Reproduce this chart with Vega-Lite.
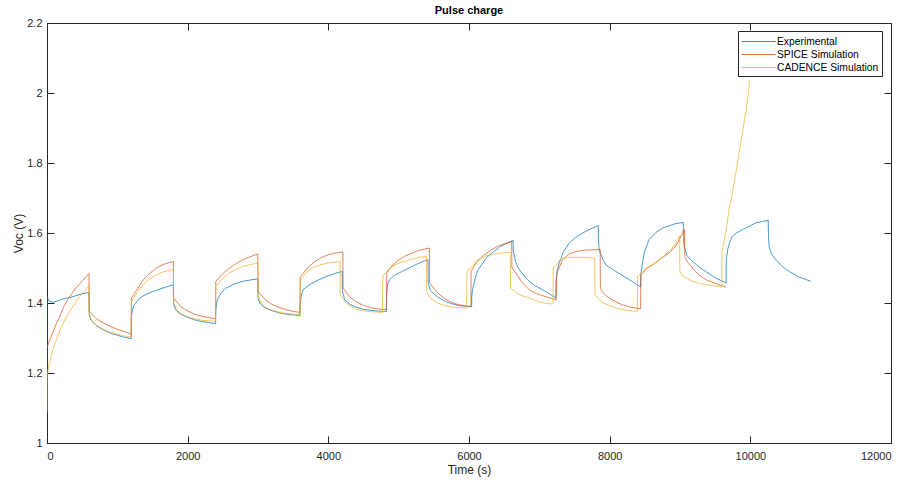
{
  "$schema": "https://vega.github.io/schema/vega-lite/v6.json",
  "autosize": {"type": "none"},
  "width": 844,
  "height": 420,
  "padding": {"left": 47, "top": 23, "right": 18, "bottom": 41},
  "background": "white",
  "title": {"text": "Pulse charge", "fontSize": 11, "fontWeight": "bold", "font": "Liberation Sans", "color": "#000000", "offset": 1},
  "data": {"values": [
    {"s":"Experimental","t":0,"v":1.085},{"s":"Experimental","t":2,"v":1.418},{"s":"Experimental","t":30,"v":1.405},{"s":"Experimental","t":90,"v":1.402},{"s":"Experimental","t":200,"v":1.41},{"s":"Experimental","t":370,"v":1.418},{"s":"Experimental","t":470,"v":1.425},{"s":"Experimental","t":597,"v":1.43},
    {"s":"Experimental","t":600,"v":1.372},{"s":"Experimental","t":620,"v":1.352},{"s":"Experimental","t":700,"v":1.336},{"s":"Experimental","t":800,"v":1.323},{"s":"Experimental","t":900,"v":1.314},{"s":"Experimental","t":1000,"v":1.308},{"s":"Experimental","t":1100,"v":1.302},{"s":"Experimental","t":1197,"v":1.298},
    {"s":"Experimental","t":1200,"v":1.365},{"s":"Experimental","t":1230,"v":1.392},{"s":"Experimental","t":1280,"v":1.405},{"s":"Experimental","t":1315,"v":1.414},{"s":"Experimental","t":1400,"v":1.424},{"s":"Experimental","t":1508,"v":1.433},{"s":"Experimental","t":1650,"v":1.443},{"s":"Experimental","t":1797,"v":1.452},
    {"s":"Experimental","t":1800,"v":1.396},{"s":"Experimental","t":1830,"v":1.38},{"s":"Experimental","t":1900,"v":1.368},{"s":"Experimental","t":2000,"v":1.359},{"s":"Experimental","t":2100,"v":1.352},{"s":"Experimental","t":2200,"v":1.347},{"s":"Experimental","t":2300,"v":1.344},{"s":"Experimental","t":2397,"v":1.341},
    {"s":"Experimental","t":2400,"v":1.38},{"s":"Experimental","t":2420,"v":1.409},{"s":"Experimental","t":2480,"v":1.43},{"s":"Experimental","t":2549,"v":1.443},{"s":"Experimental","t":2650,"v":1.453},{"s":"Experimental","t":2784,"v":1.462},{"s":"Experimental","t":2900,"v":1.466},{"s":"Experimental","t":2997,"v":1.469},
    {"s":"Experimental","t":3000,"v":1.414},{"s":"Experimental","t":3030,"v":1.398},{"s":"Experimental","t":3100,"v":1.386},{"s":"Experimental","t":3200,"v":1.378},{"s":"Experimental","t":3300,"v":1.372},{"s":"Experimental","t":3400,"v":1.368},{"s":"Experimental","t":3500,"v":1.366},{"s":"Experimental","t":3597,"v":1.364},
    {"s":"Experimental","t":3600,"v":1.4},{"s":"Experimental","t":3615,"v":1.42},{"s":"Experimental","t":3640,"v":1.438},{"s":"Experimental","t":3750,"v":1.455},{"s":"Experimental","t":3872,"v":1.467},{"s":"Experimental","t":4000,"v":1.478},{"s":"Experimental","t":4100,"v":1.485},{"s":"Experimental","t":4197,"v":1.49},
    {"s":"Experimental","t":4200,"v":1.435},{"s":"Experimental","t":4230,"v":1.41},{"s":"Experimental","t":4300,"v":1.397},{"s":"Experimental","t":4400,"v":1.388},{"s":"Experimental","t":4500,"v":1.382},{"s":"Experimental","t":4600,"v":1.379},{"s":"Experimental","t":4700,"v":1.377},{"s":"Experimental","t":4827,"v":1.376},
    {"s":"Experimental","t":4830,"v":1.43},{"s":"Experimental","t":4845,"v":1.455},{"s":"Experimental","t":4870,"v":1.466},{"s":"Experimental","t":4930,"v":1.478},{"s":"Experimental","t":5007,"v":1.486},{"s":"Experimental","t":5196,"v":1.505},{"s":"Experimental","t":5300,"v":1.515},{"s":"Experimental","t":5417,"v":1.524},
    {"s":"Experimental","t":5420,"v":1.457},{"s":"Experimental","t":5450,"v":1.435},{"s":"Experimental","t":5550,"v":1.418},{"s":"Experimental","t":5650,"v":1.406},{"s":"Experimental","t":5750,"v":1.398},{"s":"Experimental","t":5850,"v":1.393},{"s":"Experimental","t":6037,"v":1.389},
    {"s":"Experimental","t":6040,"v":1.42},{"s":"Experimental","t":6050,"v":1.438},{"s":"Experimental","t":6100,"v":1.48},{"s":"Experimental","t":6130,"v":1.495},{"s":"Experimental","t":6250,"v":1.53},{"s":"Experimental","t":6350,"v":1.547},{"s":"Experimental","t":6450,"v":1.562},{"s":"Experimental","t":6550,"v":1.572},{"s":"Experimental","t":6627,"v":1.579},
    {"s":"Experimental","t":6630,"v":1.55},{"s":"Experimental","t":6660,"v":1.52},{"s":"Experimental","t":6700,"v":1.5},{"s":"Experimental","t":6780,"v":1.478},{"s":"Experimental","t":6856,"v":1.462},{"s":"Experimental","t":6950,"v":1.448},{"s":"Experimental","t":7094,"v":1.433},{"s":"Experimental","t":7234,"v":1.414},
    {"s":"Experimental","t":7237,"v":1.46},{"s":"Experimental","t":7250,"v":1.49},{"s":"Experimental","t":7282,"v":1.514},{"s":"Experimental","t":7340,"v":1.545},{"s":"Experimental","t":7424,"v":1.571},{"s":"Experimental","t":7520,"v":1.588},{"s":"Experimental","t":7614,"v":1.6},{"s":"Experimental","t":7756,"v":1.614},{"s":"Experimental","t":7838,"v":1.621},
    {"s":"Experimental","t":7841,"v":1.58},{"s":"Experimental","t":7850,"v":1.552},{"s":"Experimental","t":7900,"v":1.525},{"s":"Experimental","t":7946,"v":1.509},{"s":"Experimental","t":8088,"v":1.49},{"s":"Experimental","t":8277,"v":1.467},{"s":"Experimental","t":8441,"v":1.446},
    {"s":"Experimental","t":8444,"v":1.48},{"s":"Experimental","t":8466,"v":1.515},{"s":"Experimental","t":8500,"v":1.55},{"s":"Experimental","t":8561,"v":1.581},{"s":"Experimental","t":8650,"v":1.6},{"s":"Experimental","t":8750,"v":1.614},{"s":"Experimental","t":8940,"v":1.627},{"s":"Experimental","t":9046,"v":1.63},
    {"s":"Experimental","t":9049,"v":1.59},{"s":"Experimental","t":9058,"v":1.562},{"s":"Experimental","t":9100,"v":1.535},{"s":"Experimental","t":9176,"v":1.519},{"s":"Experimental","t":9270,"v":1.503},{"s":"Experimental","t":9366,"v":1.49},{"s":"Experimental","t":9500,"v":1.472},{"s":"Experimental","t":9655,"v":1.457},
    {"s":"Experimental","t":9658,"v":1.524},{"s":"Experimental","t":9680,"v":1.555},{"s":"Experimental","t":9710,"v":1.575},{"s":"Experimental","t":9744,"v":1.59},{"s":"Experimental","t":9800,"v":1.6},{"s":"Experimental","t":9886,"v":1.609},{"s":"Experimental","t":10077,"v":1.629},{"s":"Experimental","t":10254,"v":1.636},
    {"s":"Experimental","t":10257,"v":1.6},{"s":"Experimental","t":10266,"v":1.562},{"s":"Experimental","t":10300,"v":1.54},{"s":"Experimental","t":10361,"v":1.524},{"s":"Experimental","t":10450,"v":1.505},{"s":"Experimental","t":10550,"v":1.49},{"s":"Experimental","t":10700,"v":1.474},{"s":"Experimental","t":10858,"v":1.462},

    {"s":"SPICE Simulation","t":0,"v":1.272},{"s":"SPICE Simulation","t":60,"v":1.305},{"s":"SPICE Simulation","t":120,"v":1.335},{"s":"SPICE Simulation","t":180,"v":1.362},{"s":"SPICE Simulation","t":240,"v":1.39},{"s":"SPICE Simulation","t":310,"v":1.415},{"s":"SPICE Simulation","t":400,"v":1.44},{"s":"SPICE Simulation","t":500,"v":1.463},{"s":"SPICE Simulation","t":597,"v":1.484},
    {"s":"SPICE Simulation","t":600,"v":1.376},{"s":"SPICE Simulation","t":700,"v":1.355},{"s":"SPICE Simulation","t":800,"v":1.343},{"s":"SPICE Simulation","t":900,"v":1.333},{"s":"SPICE Simulation","t":1000,"v":1.325},{"s":"SPICE Simulation","t":1100,"v":1.318},{"s":"SPICE Simulation","t":1197,"v":1.311},
    {"s":"SPICE Simulation","t":1200,"v":1.414},{"s":"SPICE Simulation","t":1300,"v":1.445},{"s":"SPICE Simulation","t":1366,"v":1.465},{"s":"SPICE Simulation","t":1450,"v":1.483},{"s":"SPICE Simulation","t":1556,"v":1.5},{"s":"SPICE Simulation","t":1650,"v":1.51},{"s":"SPICE Simulation","t":1797,"v":1.519},
    {"s":"SPICE Simulation","t":1800,"v":1.414},{"s":"SPICE Simulation","t":1900,"v":1.39},{"s":"SPICE Simulation","t":2000,"v":1.377},{"s":"SPICE Simulation","t":2100,"v":1.368},{"s":"SPICE Simulation","t":2200,"v":1.362},{"s":"SPICE Simulation","t":2300,"v":1.358},{"s":"SPICE Simulation","t":2397,"v":1.355},
    {"s":"SPICE Simulation","t":2400,"v":1.462},{"s":"SPICE Simulation","t":2500,"v":1.484},{"s":"SPICE Simulation","t":2596,"v":1.5},{"s":"SPICE Simulation","t":2700,"v":1.514},{"s":"SPICE Simulation","t":2784,"v":1.524},{"s":"SPICE Simulation","t":2900,"v":1.533},{"s":"SPICE Simulation","t":2997,"v":1.54},
    {"s":"SPICE Simulation","t":3000,"v":1.433},{"s":"SPICE Simulation","t":3100,"v":1.41},{"s":"SPICE Simulation","t":3200,"v":1.396},{"s":"SPICE Simulation","t":3300,"v":1.387},{"s":"SPICE Simulation","t":3400,"v":1.381},{"s":"SPICE Simulation","t":3500,"v":1.376},{"s":"SPICE Simulation","t":3597,"v":1.373},
    {"s":"SPICE Simulation","t":3600,"v":1.474},{"s":"SPICE Simulation","t":3700,"v":1.5},{"s":"SPICE Simulation","t":3800,"v":1.517},{"s":"SPICE Simulation","t":3900,"v":1.53},{"s":"SPICE Simulation","t":4000,"v":1.538},{"s":"SPICE Simulation","t":4100,"v":1.543},{"s":"SPICE Simulation","t":4207,"v":1.546},
    {"s":"SPICE Simulation","t":4210,"v":1.443},{"s":"SPICE Simulation","t":4300,"v":1.418},{"s":"SPICE Simulation","t":4400,"v":1.403},{"s":"SPICE Simulation","t":4500,"v":1.393},{"s":"SPICE Simulation","t":4600,"v":1.387},{"s":"SPICE Simulation","t":4700,"v":1.383},{"s":"SPICE Simulation","t":4827,"v":1.381},
    {"s":"SPICE Simulation","t":4830,"v":1.486},{"s":"SPICE Simulation","t":4900,"v":1.505},{"s":"SPICE Simulation","t":5007,"v":1.524},{"s":"SPICE Simulation","t":5100,"v":1.535},{"s":"SPICE Simulation","t":5196,"v":1.543},{"s":"SPICE Simulation","t":5300,"v":1.551},{"s":"SPICE Simulation","t":5437,"v":1.557},
    {"s":"SPICE Simulation","t":5440,"v":1.457},{"s":"SPICE Simulation","t":5550,"v":1.43},{"s":"SPICE Simulation","t":5650,"v":1.413},{"s":"SPICE Simulation","t":5750,"v":1.402},{"s":"SPICE Simulation","t":5850,"v":1.395},{"s":"SPICE Simulation","t":6027,"v":1.39},
    {"s":"SPICE Simulation","t":6030,"v":1.49},{"s":"SPICE Simulation","t":6100,"v":1.515},{"s":"SPICE Simulation","t":6200,"v":1.535},{"s":"SPICE Simulation","t":6300,"v":1.55},{"s":"SPICE Simulation","t":6400,"v":1.561},{"s":"SPICE Simulation","t":6500,"v":1.569},{"s":"SPICE Simulation","t":6607,"v":1.575},
    {"s":"SPICE Simulation","t":6610,"v":1.5},{"s":"SPICE Simulation","t":6667,"v":1.486},{"s":"SPICE Simulation","t":6750,"v":1.46},{"s":"SPICE Simulation","t":6856,"v":1.438},{"s":"SPICE Simulation","t":6950,"v":1.427},{"s":"SPICE Simulation","t":7094,"v":1.418},{"s":"SPICE Simulation","t":7240,"v":1.409},
    {"s":"SPICE Simulation","t":7243,"v":1.47},{"s":"SPICE Simulation","t":7260,"v":1.49},{"s":"SPICE Simulation","t":7330,"v":1.524},{"s":"SPICE Simulation","t":7420,"v":1.54},{"s":"SPICE Simulation","t":7520,"v":1.547},{"s":"SPICE Simulation","t":7650,"v":1.551},{"s":"SPICE Simulation","t":7756,"v":1.552},{"s":"SPICE Simulation","t":7865,"v":1.553},
    {"s":"SPICE Simulation","t":7868,"v":1.443},{"s":"SPICE Simulation","t":7900,"v":1.43},{"s":"SPICE Simulation","t":7993,"v":1.414},{"s":"SPICE Simulation","t":8100,"v":1.402},{"s":"SPICE Simulation","t":8182,"v":1.395},{"s":"SPICE Simulation","t":8300,"v":1.388},{"s":"SPICE Simulation","t":8440,"v":1.383},
    {"s":"SPICE Simulation","t":8443,"v":1.48},{"s":"SPICE Simulation","t":8520,"v":1.497},{"s":"SPICE Simulation","t":8650,"v":1.515},{"s":"SPICE Simulation","t":8750,"v":1.53},{"s":"SPICE Simulation","t":8845,"v":1.543},{"s":"SPICE Simulation","t":8930,"v":1.56},{"s":"SPICE Simulation","t":8990,"v":1.58},{"s":"SPICE Simulation","t":9034,"v":1.6},{"s":"SPICE Simulation","t":9065,"v":1.611},
    {"s":"SPICE Simulation","t":9068,"v":1.533},{"s":"SPICE Simulation","t":9100,"v":1.52},{"s":"SPICE Simulation","t":9176,"v":1.5},{"s":"SPICE Simulation","t":9270,"v":1.48},{"s":"SPICE Simulation","t":9366,"v":1.467},{"s":"SPICE Simulation","t":9500,"v":1.456},{"s":"SPICE Simulation","t":9655,"v":1.445},

    {"s":"CADENCE Simulation","t":0,"v":1.09},{"s":"CADENCE Simulation","t":3,"v":1.195},{"s":"CADENCE Simulation","t":30,"v":1.225},{"s":"CADENCE Simulation","t":80,"v":1.265},{"s":"CADENCE Simulation","t":133,"v":1.295},{"s":"CADENCE Simulation","t":200,"v":1.33},{"s":"CADENCE Simulation","t":274,"v":1.36},{"s":"CADENCE Simulation","t":350,"v":1.385},{"s":"CADENCE Simulation","t":420,"v":1.405},{"s":"CADENCE Simulation","t":490,"v":1.425},{"s":"CADENCE Simulation","t":597,"v":1.449},
    {"s":"CADENCE Simulation","t":600,"v":1.365},{"s":"CADENCE Simulation","t":650,"v":1.345},{"s":"CADENCE Simulation","t":700,"v":1.337},{"s":"CADENCE Simulation","t":800,"v":1.325},{"s":"CADENCE Simulation","t":900,"v":1.317},{"s":"CADENCE Simulation","t":1000,"v":1.311},{"s":"CADENCE Simulation","t":1100,"v":1.306},{"s":"CADENCE Simulation","t":1197,"v":1.303},
    {"s":"CADENCE Simulation","t":1200,"v":1.405},{"s":"CADENCE Simulation","t":1300,"v":1.435},{"s":"CADENCE Simulation","t":1366,"v":1.452},{"s":"CADENCE Simulation","t":1450,"v":1.467},{"s":"CADENCE Simulation","t":1556,"v":1.481},{"s":"CADENCE Simulation","t":1650,"v":1.489},{"s":"CADENCE Simulation","t":1797,"v":1.495},
    {"s":"CADENCE Simulation","t":1800,"v":1.4},{"s":"CADENCE Simulation","t":1850,"v":1.38},{"s":"CADENCE Simulation","t":1900,"v":1.37},{"s":"CADENCE Simulation","t":2000,"v":1.361},{"s":"CADENCE Simulation","t":2100,"v":1.355},{"s":"CADENCE Simulation","t":2200,"v":1.351},{"s":"CADENCE Simulation","t":2300,"v":1.349},{"s":"CADENCE Simulation","t":2397,"v":1.348},
    {"s":"CADENCE Simulation","t":2400,"v":1.447},{"s":"CADENCE Simulation","t":2500,"v":1.47},{"s":"CADENCE Simulation","t":2596,"v":1.486},{"s":"CADENCE Simulation","t":2700,"v":1.497},{"s":"CADENCE Simulation","t":2784,"v":1.505},{"s":"CADENCE Simulation","t":2900,"v":1.51},{"s":"CADENCE Simulation","t":2997,"v":1.514},
    {"s":"CADENCE Simulation","t":3000,"v":1.42},{"s":"CADENCE Simulation","t":3050,"v":1.398},{"s":"CADENCE Simulation","t":3100,"v":1.388},{"s":"CADENCE Simulation","t":3200,"v":1.379},{"s":"CADENCE Simulation","t":3300,"v":1.374},{"s":"CADENCE Simulation","t":3400,"v":1.37},{"s":"CADENCE Simulation","t":3500,"v":1.368},{"s":"CADENCE Simulation","t":3597,"v":1.367},
    {"s":"CADENCE Simulation","t":3600,"v":1.465},{"s":"CADENCE Simulation","t":3700,"v":1.49},{"s":"CADENCE Simulation","t":3800,"v":1.502},{"s":"CADENCE Simulation","t":3900,"v":1.51},{"s":"CADENCE Simulation","t":4000,"v":1.514},{"s":"CADENCE Simulation","t":4080,"v":1.517},{"s":"CADENCE Simulation","t":4167,"v":1.518},
    {"s":"CADENCE Simulation","t":4170,"v":1.421},{"s":"CADENCE Simulation","t":4250,"v":1.4},{"s":"CADENCE Simulation","t":4300,"v":1.392},{"s":"CADENCE Simulation","t":4400,"v":1.383},{"s":"CADENCE Simulation","t":4500,"v":1.378},{"s":"CADENCE Simulation","t":4600,"v":1.375},{"s":"CADENCE Simulation","t":4700,"v":1.374},{"s":"CADENCE Simulation","t":4770,"v":1.373},
    {"s":"CADENCE Simulation","t":4773,"v":1.476},{"s":"CADENCE Simulation","t":4850,"v":1.495},{"s":"CADENCE Simulation","t":4950,"v":1.509},{"s":"CADENCE Simulation","t":5007,"v":1.514},{"s":"CADENCE Simulation","t":5196,"v":1.526},{"s":"CADENCE Simulation","t":5300,"v":1.531},{"s":"CADENCE Simulation","t":5395,"v":1.533},
    {"s":"CADENCE Simulation","t":5398,"v":1.433},{"s":"CADENCE Simulation","t":5450,"v":1.415},{"s":"CADENCE Simulation","t":5550,"v":1.4},{"s":"CADENCE Simulation","t":5650,"v":1.393},{"s":"CADENCE Simulation","t":5750,"v":1.389},{"s":"CADENCE Simulation","t":5850,"v":1.387},{"s":"CADENCE Simulation","t":5967,"v":1.386},
    {"s":"CADENCE Simulation","t":5970,"v":1.49},{"s":"CADENCE Simulation","t":6050,"v":1.505},{"s":"CADENCE Simulation","t":6130,"v":1.524},{"s":"CADENCE Simulation","t":6250,"v":1.535},{"s":"CADENCE Simulation","t":6400,"v":1.541},{"s":"CADENCE Simulation","t":6500,"v":1.544},{"s":"CADENCE Simulation","t":6587,"v":1.545},
    {"s":"CADENCE Simulation","t":6590,"v":1.443},{"s":"CADENCE Simulation","t":6700,"v":1.425},{"s":"CADENCE Simulation","t":6856,"v":1.414},{"s":"CADENCE Simulation","t":7000,"v":1.403},{"s":"CADENCE Simulation","t":7100,"v":1.399},{"s":"CADENCE Simulation","t":7195,"v":1.397},
    {"s":"CADENCE Simulation","t":7198,"v":1.5},{"s":"CADENCE Simulation","t":7306,"v":1.526},{"s":"CADENCE Simulation","t":7400,"v":1.53},{"s":"CADENCE Simulation","t":7520,"v":1.531},{"s":"CADENCE Simulation","t":7650,"v":1.53},{"s":"CADENCE Simulation","t":7788,"v":1.528},
    {"s":"CADENCE Simulation","t":7791,"v":1.424},{"s":"CADENCE Simulation","t":7880,"v":1.403},{"s":"CADENCE Simulation","t":8000,"v":1.392},{"s":"CADENCE Simulation","t":8135,"v":1.383},{"s":"CADENCE Simulation","t":8250,"v":1.379},{"s":"CADENCE Simulation","t":8393,"v":1.376},
    {"s":"CADENCE Simulation","t":8396,"v":1.476},{"s":"CADENCE Simulation","t":8466,"v":1.49},{"s":"CADENCE Simulation","t":8560,"v":1.505},{"s":"CADENCE Simulation","t":8650,"v":1.515},{"s":"CADENCE Simulation","t":8750,"v":1.532},{"s":"CADENCE Simulation","t":8850,"v":1.548},{"s":"CADENCE Simulation","t":8920,"v":1.565},{"s":"CADENCE Simulation","t":8960,"v":1.58},{"s":"CADENCE Simulation","t":8995,"v":1.592},
    {"s":"CADENCE Simulation","t":8998,"v":1.49},{"s":"CADENCE Simulation","t":9050,"v":1.475},{"s":"CADENCE Simulation","t":9176,"v":1.462},{"s":"CADENCE Simulation","t":9300,"v":1.455},{"s":"CADENCE Simulation","t":9450,"v":1.45},{"s":"CADENCE Simulation","t":9594,"v":1.446},
    {"s":"CADENCE Simulation","t":9597,"v":1.545},{"s":"CADENCE Simulation","t":9650,"v":1.6},{"s":"CADENCE Simulation","t":9698,"v":1.667},{"s":"CADENCE Simulation","t":9750,"v":1.72},{"s":"CADENCE Simulation","t":9793,"v":1.771},{"s":"CADENCE Simulation","t":9886,"v":1.886},{"s":"CADENCE Simulation","t":9940,"v":1.95},{"s":"CADENCE Simulation","t":9991,"v":2.036}
  ]},
  "config": {
    "view": {"stroke": "#262626", "strokeWidth": 1},
    "font": "Liberation Sans",
    "axis": {
      "grid": false,
      "domainColor": "#262626",
      "domainWidth": 1,
      "tickColor": "#262626",
      "tickWidth": 1,
      "tickSize": -7,
      "labelFont": "Liberation Sans",
      "labelFontSize": 11,
      "labelColor": "#262626",
      "titleFont": "Liberation Sans",
      "titleFontSize": 12,
      "titleFontWeight": "normal",
      "titleColor": "#262626"
    }
  },
  "layer": [
    {
      "mark": {"type": "line", "strokeWidth": 0.9, "opacity": 0.8, "clip": true},
      "encoding": {
        "x": {"field": "t", "type": "quantitative",
          "scale": {"domain": [0, 12000], "nice": false, "zero": false},
          "axis": {"orient": "bottom", "values": [0, 2000, 4000, 6000, 8000, 10000, 12000], "format": "d", "title": "Time (s)", "labelPadding": 14, "titlePadding": 3}},
        "y": {"field": "v", "type": "quantitative",
          "scale": {"domain": [1, 2.2], "nice": false, "zero": false},
          "axis": {"orient": "left", "values": [1, 1.2, 1.4, 1.6, 1.8, 2, 2.2], "format": "~g", "title": "Voc (V)", "labelPadding": 12, "titlePadding": 1}},
        "color": {"field": "s", "type": "nominal",
          "scale": {"domain": ["Experimental", "SPICE Simulation", "CADENCE Simulation"], "range": ["#0072BD", "#D95319", "#EDB120"]},
          "legend": {"orient": "none", "legendX": 691, "legendY": 8, "title": null,
            "symbolType": "M-2.5,0H2.5", "symbolSize": 185, "symbolStrokeWidth": 1.2,
            "symbolOffset": 10, "labelOffset": 11,
            "labelFont": "Liberation Sans", "labelFontSize": 10.3, "labelColor": "#000000",
            "fillColor": "white", "strokeColor": "#262626", "padding": 3, "rowPadding": 0, "cornerRadius": 0}}
      }
    },
    {
      "mark": {"type": "line", "strokeOpacity": 0},
      "encoding": {
        "x": {"field": "t", "type": "quantitative",
          "axis": {"orient": "top", "values": [0, 2000, 4000, 6000, 8000, 10000, 12000], "labels": false, "title": null, "domain": false}},
        "y": {"field": "v", "type": "quantitative",
          "axis": {"orient": "right", "values": [1, 1.2, 1.4, 1.6, 1.8, 2, 2.2], "labels": false, "title": null, "domain": false}}
      }
    }
  ],
  "resolve": {"axis": {"x": "independent", "y": "independent"}}
}
